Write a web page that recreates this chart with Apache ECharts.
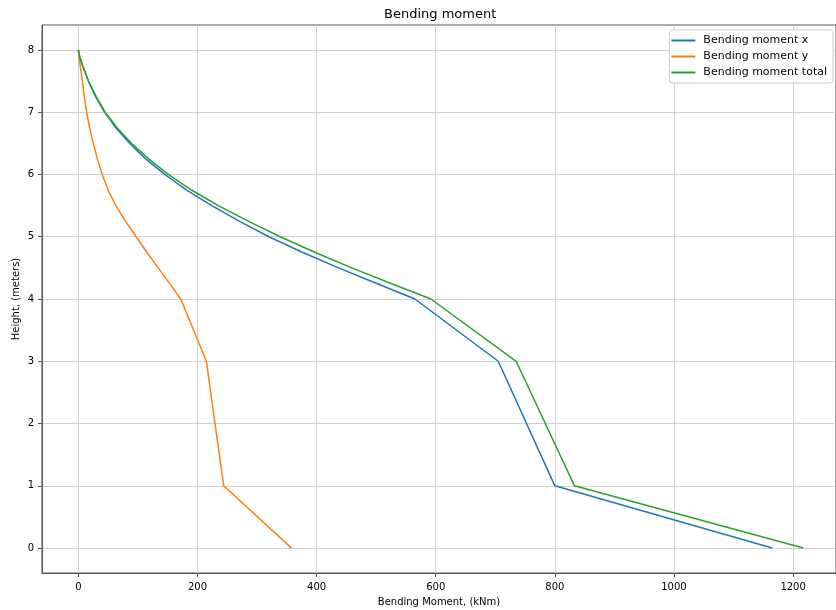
<!DOCTYPE html>
<html>
<head>
<meta charset="utf-8">
<script src="https://cdn.jsdelivr.net/npm/echarts@6/dist/echarts.min.js"></script>
<style>
  html, body { margin: 0; padding: 0; background: #fff; }
  #chart { width: 836px; height: 610px; }
</style>
</head>
<body>
<div id="chart"></div>
<script>
// heights (m) where the moments were read
var heights = [8, 7.9, 7.75, 7.5, 7.25, 7, 6.75, 6.5, 6.25, 6, 5.75, 5.5, 5.25, 5, 4.75, 4.5, 4.25, 4, 3, 1, 0];
var momentX = [0, 2, 7, 17, 29, 44, 63, 86, 113, 145, 182, 224, 270, 320, 376, 437, 501, 565, 705, 800, 1165];
var momentY = [0, 1, 3, 7, 10, 14, 19, 25, 32, 40, 50, 63, 79, 97, 115, 134, 153, 172, 215, 244, 358];
var momentTotal = [0, 2, 7, 17, 30, 45, 65, 89, 118, 151, 190, 235, 285, 339, 397, 459, 525, 592, 735, 833, 1217];

var xTicks = [0, 200, 400, 600, 800, 1000, 1200];
var yTicks = [0, 1, 2, 3, 4, 5, 6, 7, 8];

var names = ['Bending moment x', 'Bending moment y', 'Bending moment total'];
var colors = ['#1f77b4', '#ff7f0e', '#2ca02c'];

function pairs(vals) {
    return vals.map(function (v, i) { return [v, heights[i]]; });
}

var myChart = echarts.init(document.getElementById('chart'));
var font = 'DejaVu Sans';

myChart.setOption({
    animation: false,
    title: {
        text: 'Bending moment',
        left: 379,
        top: 3,
        textStyle: { fontFamily: font, fontSize: 13, fontWeight: 'normal', color: '#000' }
    },
    legend: {
        data: names,
        orient: 'vertical',
        right: 3,
        top: 30,
        icon: 'rect',
        itemWidth: 24,
        itemHeight: 2,
        itemGap: 5,
        padding: [5, 6, 5, 2],
        backgroundColor: '#fff',
        borderColor: '#ccc',
        borderWidth: 1,
        borderRadius: 3,
        textStyle: { fontFamily: font, fontSize: 11, color: '#000', padding: [0, 0, 0, 3] }
    },
    grid: {
        left: 42, right: 0, top: 25, bottom: 37,
        outerBoundsMode: 'none',
        show: true, borderColor: '#555', borderWidth: 1
    },
    xAxis: {
        type: 'value',
        min: -61,
        max: 1272,
        splitNumber: 7,
        name: 'Bending Moment, (kNm)',
        nameLocation: 'middle',
        nameGap: 24,
        nameMoveOverlap: false,
        nameTextStyle: { fontFamily: font, fontSize: 10, color: '#000' },
        axisLine: { show: true, onZero: false, lineStyle: { color: '#555' } },
        axisTick: { show: true, length: 4, customValues: xTicks, lineStyle: { color: '#555' } },
        axisLabel: {
            fontFamily: font, fontSize: 10, color: '#000', margin: 9,
            customValues: xTicks,
            formatter: function (v) { return String(v); }
        },
        splitLine: { show: true, lineStyle: { color: '#d0d0d0' } }
    },
    yAxis: {
        type: 'value',
        min: -0.4,
        max: 8.4,
        splitNumber: 9,
        name: 'Height, (meters)',
        nameLocation: 'middle',
        nameGap: 21,
        nameMoveOverlap: false,
        nameTextStyle: { fontFamily: font, fontSize: 10, color: '#000' },
        axisLine: { show: true, onZero: false, lineStyle: { color: '#555' } },
        axisTick: { show: true, length: 4, customValues: yTicks, lineStyle: { color: '#555' } },
        axisLabel: {
            fontFamily: font, fontSize: 10, color: '#000', margin: 8,
            customValues: yTicks,
            formatter: function (v) { return String(v); }
        },
        splitLine: { show: true, lineStyle: { color: '#d0d0d0' } }
    },
    series: [momentX, momentY, momentTotal].map(function (vals, i) {
        return {
            name: names[i],
            type: 'line',
            data: pairs(vals),
            showSymbol: false,
            color: colors[i],
            lineStyle: { width: 1.5, color: colors[i] }
        };
    })
});
</script>
</body>
</html>
